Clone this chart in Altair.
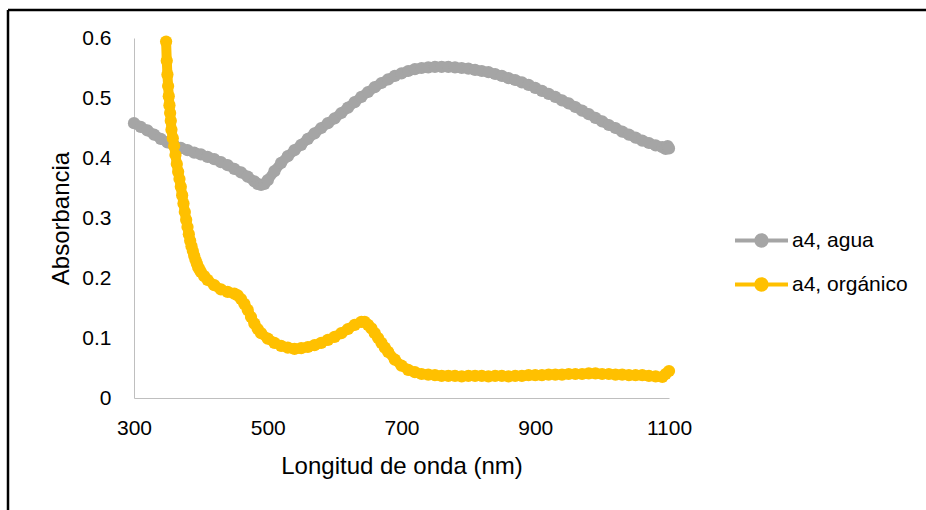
import altair as alt
import pandas as pd

# Absorbance spectra of sample a4 (wavelength in nm)
agua_nm = [300, 310, 320, 330, 340, 350, 360, 370, 380, 390, 400, 410, 420, 430, 440,
           450, 460, 470, 480, 485, 490, 495, 500, 510, 520, 530, 540, 550, 560, 570,
           580, 590, 600, 610, 620, 630, 640, 650, 660, 670, 680, 690, 700, 710, 720,
           730, 740, 750, 760, 770, 780, 790, 800, 810, 820, 830, 840, 850, 860, 870,
           880, 890, 900, 910, 920, 930, 940, 950, 960, 970, 980, 990, 1000, 1010,
           1020, 1030, 1040, 1050, 1060, 1070, 1080, 1090, 1095, 1098, 1100]
agua_abs = [0.458, 0.452, 0.446, 0.439, 0.432, 0.426, 0.421, 0.417, 0.413, 0.409, 0.406,
            0.402, 0.398, 0.393, 0.388, 0.382, 0.376, 0.369, 0.361, 0.357, 0.355, 0.357,
            0.363, 0.378, 0.392, 0.403, 0.413, 0.422, 0.432, 0.441, 0.450, 0.458, 0.466,
            0.475, 0.484, 0.493, 0.502, 0.510, 0.518, 0.525, 0.531, 0.537, 0.541, 0.545,
            0.548, 0.550, 0.551, 0.552, 0.552, 0.552, 0.551, 0.550, 0.549, 0.547, 0.545,
            0.543, 0.540, 0.537, 0.533, 0.530, 0.526, 0.522, 0.517, 0.512, 0.507, 0.502,
            0.496, 0.491, 0.485, 0.479, 0.473, 0.467, 0.461, 0.455, 0.450, 0.444, 0.439,
            0.434, 0.429, 0.425, 0.421, 0.418, 0.415, 0.420, 0.416]

org_nm = [348, 349, 350, 351, 352, 353, 354, 355, 356, 358, 360, 362, 364, 366, 368, 370,
          372, 374, 376, 378, 380, 382, 384, 386, 388, 390, 392, 394, 396, 398, 400, 405,
          410, 420, 430, 440, 450, 455, 460, 465, 470, 475, 480, 485, 490, 500, 510, 520,
          530, 540, 550, 560, 570, 580, 590, 600, 610, 620, 630, 640, 645, 650, 655, 660,
          665, 670, 675, 680, 690, 700, 710, 720, 730, 740, 750, 760, 770, 780, 790, 800,
          810, 820, 830, 840, 850, 860, 870, 880, 890, 900, 910, 920, 930, 940, 950, 960,
          970, 980, 990, 1000, 1010, 1020, 1030, 1040, 1050, 1060, 1070, 1080, 1090, 1095,
          1100]
org_abs = [0.594, 0.562, 0.539, 0.520, 0.503, 0.488, 0.475, 0.462, 0.447, 0.433, 0.420,
           0.405, 0.390, 0.377, 0.365, 0.352, 0.338, 0.324, 0.310, 0.297, 0.285, 0.273,
           0.262, 0.253, 0.245, 0.237, 0.230, 0.224, 0.218, 0.214, 0.210, 0.203, 0.197,
           0.188, 0.181, 0.177, 0.174, 0.171, 0.165, 0.157, 0.147, 0.135, 0.124, 0.115,
           0.108, 0.099, 0.092, 0.087, 0.084, 0.082, 0.083, 0.085, 0.088, 0.092, 0.097,
           0.102, 0.108, 0.115, 0.122, 0.127, 0.127, 0.122, 0.116, 0.108, 0.100, 0.092,
           0.084, 0.077, 0.064, 0.054, 0.047, 0.043, 0.040, 0.039, 0.038, 0.037, 0.037,
           0.037, 0.036, 0.037, 0.037, 0.037, 0.036, 0.037, 0.037, 0.036, 0.037, 0.037,
           0.038, 0.038, 0.038, 0.039, 0.039, 0.039, 0.040, 0.040, 0.040, 0.041, 0.041,
           0.040, 0.040, 0.039, 0.039, 0.038, 0.038, 0.038, 0.037, 0.036, 0.035, 0.040,
           0.045]

series_names = ["a4, agua", "a4, orgánico"]
series_colors = ["#A5A5A5", "#FFC000"]

x_ticks = [300, 500, 700, 900, 1100]
y_ticks = [0, 0.1, 0.2, 0.3, 0.4, 0.5, 0.6]

FONT = "Liberation Sans"

df = pd.concat([
    pd.DataFrame({"nm": agua_nm, "abs": agua_abs, "serie": series_names[0],
                  "col": series_colors[0], "k": 0}),
    pd.DataFrame({"nm": org_nm, "abs": org_abs, "serie": series_names[1],
                  "col": series_colors[1], "k": 1}),
], ignore_index=True)

x_enc = alt.X("nm:Q", scale=alt.Scale(domain=[300, 1100], nice=False, zero=False),
              axis=alt.Axis(values=x_ticks, format="d", labelFlush=False,
                            title="Longitud de onda (nm)", grid=False,
                            ticks=False, domainColor="#BFBFBF", domainWidth=1,
                            labelFont=FONT, labelFontSize=21, labelColor="#000000",
                            labelPadding=19, titleFont=FONT, titleFontSize=24,
                            titleFontWeight="normal", titleColor="#000000",
                            titleY=68, titleBaseline="middle"))
y_enc = alt.Y("abs:Q", scale=alt.Scale(domain=[0, 0.6], nice=False),
              axis=alt.Axis(values=y_ticks, format=".1~f", labelFlush=False,
                            title="Absorbancia", grid=False,
                            ticks=False, domainColor="#BFBFBF", domainWidth=1,
                            labelFont=FONT, labelFontSize=21, labelColor="#000000",
                            labelPadding=23, titleFont=FONT, titleFontSize=24,
                            titleFontWeight="normal", titleColor="#000000",
                            titleX=-73, titleY=180, titleBaseline="middle"))

color_scale = alt.Scale(domain=series_names, range=series_colors)

# legend glyph: short line with a dot in the middle (filled path, spans [-2, 2])
legend_path = ("M-2,-0.16L-0.52,-0.16L-0.52,0.16L-2,0.16Z"
               "M0.52,-0.16L2,-0.16L2,0.16L0.52,0.16Z"
               "M0.54,0A0.54,0.54,0,1,1,-0.54,0A0.54,0.54,0,1,1,0.54,0Z")

base = alt.Chart(df)

# connecting lines take their colour straight from the data (no scale, no legend)
lines = base.mark_line(strokeWidth=10, strokeJoin="round", strokeCap="round",
                       interpolate="linear").encode(
    x=x_enc, y=y_enc,
    stroke=alt.Stroke("col:N", scale=None),
    detail="serie:N",
    order="nm:Q",
)

points = base.mark_point(filled=True, size=150, opacity=1).encode(
    x=x_enc, y=y_enc,
    color=alt.Color("serie:N", scale=color_scale,
                    legend=alt.Legend(title=None, orient="none", legendX=614, legendY=189,
                                      padding=0, symbolType=legend_path, symbolSize=702,
                                      symbolOpacity=1, symbolStrokeWidth=0,
                                      labelFont=FONT, labelFontSize=21,
                                      labelColor="#000000", labelOffset=17,
                                      rowPadding=20)),
    order="k:Q",
)

blank = alt.Data(values=[{}])
frame_top = alt.Chart(blank).mark_rule(color="#000000", strokeWidth=2.5).encode(
    x=alt.value(-126), x2=alt.value(800), y=alt.value(-28), y2=alt.value(-28))
frame_left = alt.Chart(blank).mark_rule(color="#000000", strokeWidth=2.5).encode(
    x=alt.value(-126), x2=alt.value(-126), y=alt.value(-28), y2=alt.value(480))

chart = alt.layer(lines, points, frame_top, frame_left).properties(
    width=535, height=360,
    autosize=alt.AutoSizeParams(type="none"),
    padding={"left": 134, "top": 38, "right": 257, "bottom": 112},
    background="#FFFFFF",
).configure_view(stroke=None)

chart.save("out.html", embed_options={"renderer": "svg", "actions": False})
